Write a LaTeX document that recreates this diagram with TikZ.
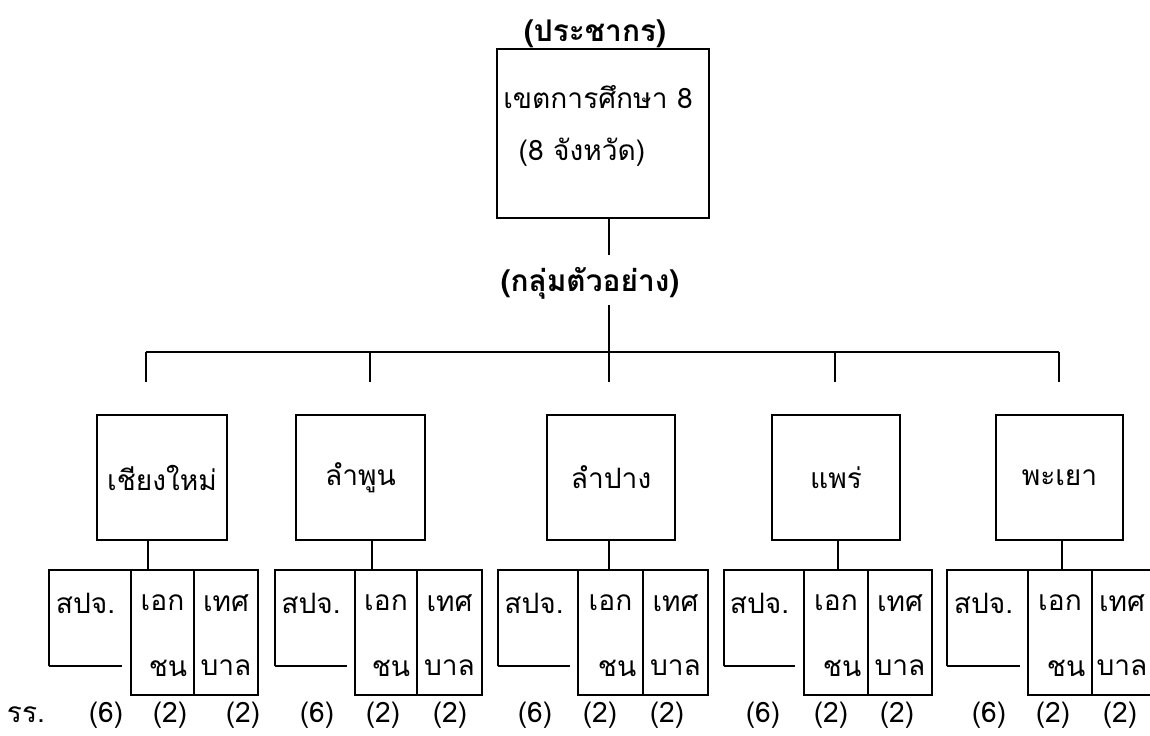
\documentclass[tikz,border=0pt]{standalone}
\usepackage{fontspec}
\newfontfamily\thai[Script=Thai]{Loma}

\tikzset{
  frame/.style={draw, line width=0.9pt, inner sep=0pt},
  lbl/.style={font=\thai\fontsize{16}{19}\selectfont, inner sep=0pt},
  head/.style={font=\thai\bfseries\fontsize{17}{20}\selectfont, inner sep=0pt},
}

\begin{document}
\begin{tikzpicture}[x=0.2mm,y=-0.2mm,line width=0.9pt]
    \useasboundingbox (0,0) rectangle (1150,735);
    \clip (0,0) rectangle (1150,735);

    % population
    \node[head] (pop) at (595,34) {(ประชากร)};
    \node[frame, minimum width=212*0.2mm, minimum height=169*0.2mm] (zone) at (603,133.5) {};
    \node[lbl] (zone-a) at (598,97) {เขตการศึกษา 8};
    \node[lbl] (zone-b) at (582,152) {(8 จังหวัด)};

    % sample
    \node[head] (smp) at (590,283) {(กลุ่มตัวอย่าง)};
    \coordinate (hub) at (609,352);
    \coordinate (hub-up) at (609,255);
    \draw (zone.south -| hub) -- (hub-up);
    \draw (hub) ++(0,-47) -- (hub);
    \coordinate (bar-w) at (146,352);
    \coordinate (bar-e) at (1059,352);
    \draw (bar-w) -- (bar-e);

    \node[lbl] (rr) at (26,715) {รร.};

    % provinces
    \foreach \id/\town/\bl/\br/\cx/\dx/\sl/\se/\ml/\mr/\sr/\na/\nb/\nc in {
        cm/เชียงใหม่/97/227/148/146/49/122/131/194/258/106/170/243,
        lp/ลำพูน/296/425/372/370/275/347/355/417/482/317/383/450,
        lg/ลำปาง/547/675/609/609/498/570/578/643/708/535/600/667,
        pr/แพร่/772/900/838/835/724/795/804/868/932/763/831/897,
        py/พะเยา/996/1123/1062/1059/947/1020/1028/1092/1152/989/1053/1120}{
        \coordinate (\id-drop) at (\dx,352);
        \draw (\id-drop) -- ++(0,30);
        \node[frame, minimum width={(\br-\bl)*0.2mm}, minimum height=125*0.2mm] (\id) at ({(\bl+\br)/2},477.5) {};
        \node[lbl] (\id-name) at (\id) {\town};
        \coordinate (\id-sub) at (\cx,570);
        \draw (\id.south -| \id-sub) -- (\id-sub);
        % three cells
        \draw (\sl,666) -- (\sl,570) -- (\sr,570) -- (\sr,695) -- (\ml,695) -- (\ml,570);
        \draw (\mr,570) -- (\mr,695);
        \draw (\sl,666) -- (\se,666);
        \node[lbl] (\id-a) at ({(\sl+\se)/2},603) {สปจ.};
        \node[lbl] (\id-b) at ({(\ml+\mr)/2},603) {เอก};
        \node[lbl, anchor=east] (\id-b2) at (\mr-6,668) {ชน};
        \node[lbl] (\id-c) at ({(\mr+\sr)/2},603) {เทศ};
        \node[lbl] (\id-c2) at ({(\mr+\sr)/2},668) {บาล};
        \node[lbl] (\id-n1) at (\na,715) {(6)};
        \node[lbl] (\id-n2) at (\nb,715) {(2)};
        \node[lbl] (\id-n3) at (\nc,715) {(2)};
    }
\end{tikzpicture}
\end{document}
